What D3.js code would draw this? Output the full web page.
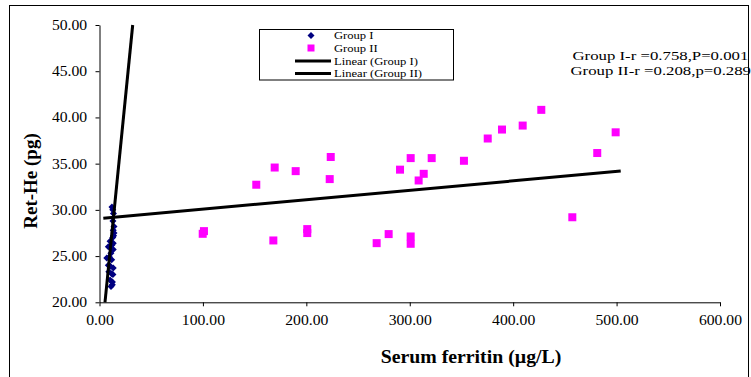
<!DOCTYPE html>
<html>
<head>
<meta charset="utf-8">
<script src="https://cdn.jsdelivr.net/npm/d3@7"></script>
<style>
  html, body { margin: 0; padding: 0; background: #fff; }
  svg { display: block; font-family: "Liberation Serif", "Times New Roman", serif; }
</style>
</head>
<body>
<div class="chart"></div>
<script>
'use strict';

// Group I: serum ferritin (x) vs Ret-He (y)
const groupIX = [12, 12.8, 13.5, 13.3, 14, 13.6, 12.8, 10.2, 13.3, 8.5, 12, 13.3, 11, 7,
  11.8, 9.5, 8.5, 13.3, 10.5, 11.8, 9, 13, 10.2, 12.4, 11.1, 12.5, 14, 13];
const groupIY = [30.3, 30.0, 29.6, 27.8, 27.5, 27.2, 27.0, 26.6, 26.4, 26.0, 26.2, 25.7, 25.3, 24.8,
  24.6, 24.9, 24.0, 23.7, 23.9, 23.1, 23.3, 23.0, 22.4, 21.9, 21.7, 22.2, 28.2, 28.8];

// Group II
const groupIIX = [99.8, 101.0, 151.6, 169.4, 189.7, 223.6, 222.6, 168.1, 200.9, 200.9, 268.0, 279.6,
  300.9, 300.9, 290.6, 300.9, 321.2, 313.5, 308.6, 352.4, 375.4, 389.2, 409.2, 427.2, 457.2, 481.3, 499.1];
const groupIIY = [27.41, 27.70, 32.72, 34.58, 34.19, 35.72, 33.33, 26.69, 27.92, 27.49, 26.40, 27.38,
  27.12, 26.33, 34.35, 35.60, 35.60, 33.90, 33.18, 35.31, 37.72, 38.69, 39.12, 40.82, 29.20, 36.15, 38.39];

// linear trendline end points [x, y]
const fitGroupI = [[5.3, 20], [32.1, 50]];
const fitGroupII = [[3.7, 29.09], [504, 34.2]];

const xTicks = [0, 100, 200, 300, 400, 500, 600];
const yTicks = [20, 25, 30, 35, 40, 45, 50];
const legendLabels = ["Group I", "Group II", "Linear (Group I)", "Linear (Group II)"];
const statLines = ["Group I-r =0.758,P=0.001", "Group II-r =0.208,p=0.289"];

const W = 751, H = 377;
const svg = d3.select(".chart").append("svg")
  .attr("width", W).attr("height", H);

// outer chart border
svg.append("rect")
  .attr("x", 9.5).attr("y", 5.5)
  .attr("width", 739).attr("height", 400)
  .attr("fill", "none").attr("stroke", "#000").attr("stroke-width", 1);

const xScale = d3.scaleLinear().domain([0, 600]).range([99.5, 720]);
const yScale = d3.scaleLinear().domain([20, 50]).range([302.3, 25]);
const fmt = d3.format(".2f");

// axes
const xAxis = svg.append("g")
  .attr("transform", `translate(0, ${yScale(20)})`)
  .call(d3.axisBottom(xScale).tickValues(xTicks).tickFormat(fmt)
    .tickSize(4).tickSizeOuter(0).tickPadding(9));
const yAxis = svg.append("g")
  .attr("transform", `translate(${xScale(0)}, 0)`)
  .call(d3.axisLeft(yScale).tickValues(yTicks).tickFormat(fmt)
    .tickSize(4).tickSizeOuter(0).tickPadding(7));
[xAxis, yAxis].forEach(ax => {
  ax.selectAll("path, line").attr("stroke", "#000");
  ax.selectAll("text")
    .attr("font-family", "Liberation Serif")
    .style("font-size", "14px")
    .attr("fill", "#000")
    .attr("transform", "scale(1.12,1)");
});

// Group I markers (diamonds)
svg.append("g").selectAll("path")
  .data(groupIX.map((x, i) => [x, groupIY[i]]))
  .enter().append("path")
  .attr("d", "M0,-3.5L3.5,0L0,3.5L-3.5,0Z")
  .attr("transform", d => `translate(${xScale(d[0])}, ${yScale(d[1])})`)
  .attr("fill", "#000080");

// Group II markers (squares)
svg.append("g").selectAll("rect")
  .data(groupIIX.map((x, i) => [x, groupIIY[i]]))
  .enter().append("rect")
  .attr("x", d => xScale(d[0]) - 4)
  .attr("y", d => yScale(d[1]) - 4)
  .attr("width", 8).attr("height", 8)
  .attr("fill", "#FF00FF");

// trendlines
const line = d3.line().x(d => xScale(d[0])).y(d => yScale(d[1]));
[fitGroupI, fitGroupII].forEach(fit => {
  svg.append("path")
    .attr("d", line(fit))
    .attr("fill", "none")
    .attr("stroke", "#000")
    .attr("stroke-width", 3);
});

// axis titles
svg.append("text")
  .attr("transform", "translate(37, 181) rotate(-90)")
  .attr("text-anchor", "middle")
  .style("font-size", "19px")
  .style("font-weight", "bold")
  .text("Ret-He (pg)");
svg.append("text")
  .attr("transform", "translate(471, 363) scale(1.1,1)")
  .attr("text-anchor", "middle")
  .style("font-size", "18px")
  .style("font-weight", "bold")
  .text("Serum ferritin (\u00b5g/L)");

// legend
const legend = svg.append("g");
legend.append("rect")
  .attr("x", 259.5).attr("y", 29.5)
  .attr("width", 194).attr("height", 50.5)
  .attr("fill", "#fff").attr("stroke", "#000").attr("stroke-width", 1);
const legendY = [35.5, 48, 61, 73.5];
legend.append("path")
  .attr("d", "M0,-3.5L3.5,0L0,3.5L-3.5,0Z")
  .attr("transform", `translate(311, ${legendY[0]})`)
  .attr("fill", "#000080");
legend.append("rect")
  .attr("x", 307.5).attr("y", legendY[1] - 3.5)
  .attr("width", 7).attr("height", 7)
  .attr("fill", "#FF00FF");
[2, 3].forEach(i => {
  legend.append("line")
    .attr("x1", 295).attr("x2", 331)
    .attr("y1", legendY[i]).attr("y2", legendY[i])
    .attr("stroke", "#000").attr("stroke-width", 3);
});
legend.selectAll("text.lbl")
  .data(legendLabels)
  .enter().append("text")
  .attr("class", "lbl")
  .attr("transform", (d, i) => `translate(334, ${legendY[i] + 3.7}) scale(1.2,1)`)
  .style("font-size", "10.5px")
  .text(d => d);

// correlation notes
svg.selectAll("text.stat")
  .data(statLines)
  .enter().append("text")
  .attr("class", "stat")
  .attr("transform", (d, i) => `translate(${i === 0 ? 572.5 : 570.5}, ${[59.5, 75][i]}) scale(1.29,1)`)
  .style("font-size", "13px")
  .text(d => d);
</script>
</body>
</html>
